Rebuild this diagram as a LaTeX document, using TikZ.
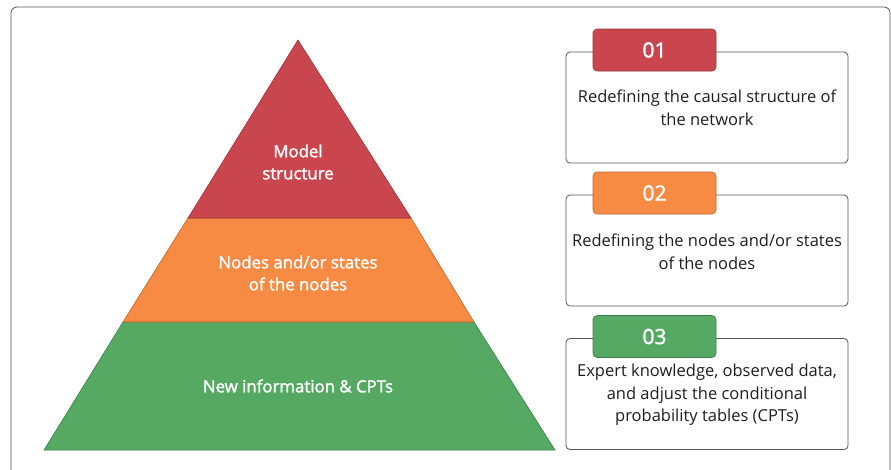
\documentclass[tikz,border=0pt]{standalone}
\usepackage{fontspec}
\setmainfont{Open Sans}
\newfontfamily\semibold{Open Sans}[FakeBold=1.6]
\usetikzlibrary{positioning}

\definecolor{layerred}{HTML}{C9464F}
\definecolor{layerorange}{HTML}{F88B43}
\definecolor{layergreen}{HTML}{55A963}
\definecolor{framegray}{HTML}{555555}

\begin{document}
\begin{tikzpicture}[x=1pt, y=-1pt]
    \tikzstyle{layer} = [line width=0.6pt]
    \tikzstyle{layertext} = [text=white, align=center, font=\semibold\fontsize{16.8}{22}\selectfont]
    \tikzstyle{card} = [rectangle, draw=framegray, rounded corners=4pt, line width=0.8pt, fill=white, minimum width=282pt, minimum height=111pt, inner sep=0pt]
    \tikzstyle{cardtext} = [text=black!88, align=center, font=\fontsize{16.5}{22.5}\selectfont]
    \tikzstyle{numtab} = [rectangle, rounded corners=4pt, line width=0.6pt, minimum width=123pt, minimum height=42pt, inner sep=0pt, text=white, font=\semibold\fontsize{21}{22}\selectfont]

    \useasboundingbox (0,0) rectangle (891,469);
    \draw [framegray, line width=0.8pt, rounded corners=6pt] (11,7) rectangle (890,482);

    % pyramid
    \coordinate (apex) at (298,40);
    \coordinate (bl) at (44,450);
    \coordinate (br) at (555,450);
    \fill [layer, layergreen, draw=layergreen!75!black] (123,322) -- (474,322) -- (br) -- (bl) -- cycle;
    \fill [layer, layerorange, draw=layerorange!75!black] (188,218) -- (411,218) -- (474,322) -- (123,322) -- cycle;
    \fill [layer, layerred, draw=layerred!75!black] (apex) -- (411,218) -- (188,218) -- cycle;

    \node [layertext] (model) at (298,162) {Model\\structure};
    \node [layertext] (states) at (298,273) {Nodes and/or states\\of the nodes};
    \node [layertext] (cpts) at (298,386) {New information \& CPTs};

    % cards
    \node [card] (card1) at (707,107.5) {};
    \node [card] (card2) at (707,250.5) {};
    \node [card] (card3) at (707,394) {};

    \node [numtab, fill=layerred, draw=layerred!75!black] (tab1) at (654.5,50) {01};
    \node [numtab, fill=layerorange, draw=layerorange!75!black] (tab2) at (654.5,193) {02};
    \node [numtab, fill=layergreen, draw=layergreen!75!black] (tab3) at (654.5,336.5) {03};

    \node [cardtext] (text1) at (707,108) {Redefining the causal structure of\\the network};
    \node [cardtext] (text2) at (707,252) {Redefining the nodes and/or states\\of the nodes};
    \node [cardtext] (text3) at (707,395) {Expert knowledge, observed data,\\and adjust the conditional\\probability tables (CPTs)};
\end{tikzpicture}
\end{document}
